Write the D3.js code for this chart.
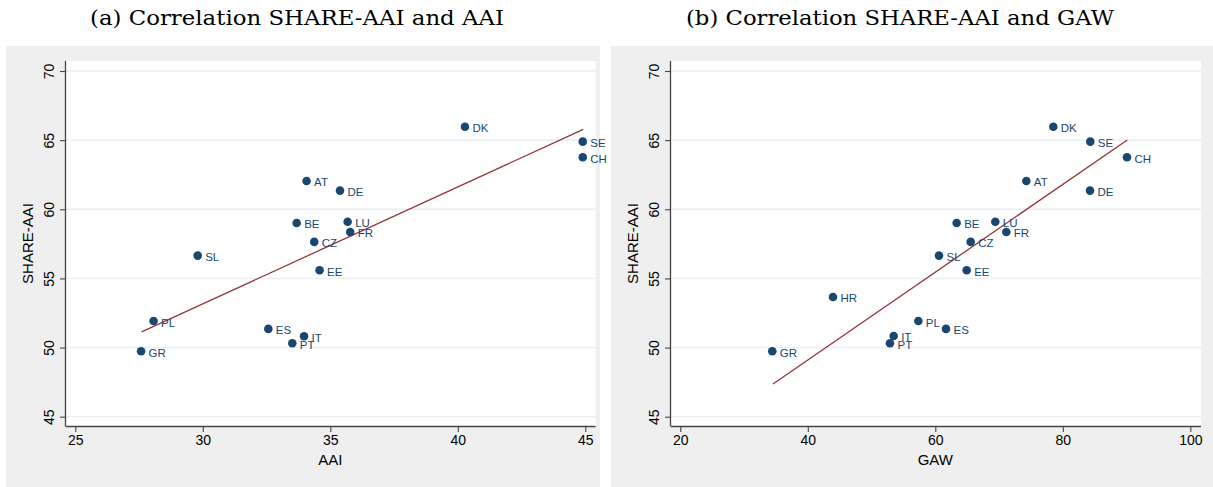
<!DOCTYPE html>
<html>
<head>
<meta charset="utf-8">
<script src="https://cdn.jsdelivr.net/npm/d3@7/dist/d3.min.js"></script>
<style>
  html, body { margin: 0; padding: 0; background: #ffffff; }
  svg { display: block; }
</style>
</head>
<body>
<div id="chart"></div>
<script>
// ---- Data ----
const countriesA = ["DK","SE","CH","AT","DE","BE","LU","FR","CZ","SL","EE","PL","GR","ES","PT","IT"];
const aaiValues   = [40.28,44.9,44.9,34.07,35.38,33.68,35.68,35.78,34.37,29.8,34.58,28.07,27.58,32.57,33.51,33.97];
const shareA      = [65.97,64.89,63.76,62.05,61.35,59.01,59.1,58.36,57.64,56.65,55.59,51.92,49.73,51.35,50.31,50.82];
const fitA_x = [27.6, 44.92];
const fitA_y = [51.13, 65.78];

const countriesB = ["DK","SE","CH","AT","DE","BE","LU","FR","CZ","SL","EE","PL","ES","HR","GR","IT","PT"];
const gawValues  = [78.51,84.31,90.07,74.28,84.27,63.35,69.41,71.14,65.55,60.58,64.92,57.34,61.68,43.95,34.43,53.47,52.89];
const shareB     = [65.97,64.89,63.76,62.05,61.35,59.01,59.1,58.36,57.64,56.65,55.59,51.92,51.35,53.66,49.73,50.84,50.31];
const fitB_x = [34.54, 90.12];
const fitB_y = [47.37, 65.01];

const yTicks = [45,50,55,60,65,70];
const xTicksA = [25,30,35,40,45];
const xTicksB = [20,40,60,80,100];

const titleA = "(a) Correlation SHARE-AAI and AAI";
const titleB = "(b) Correlation SHARE-AAI and GAW";

// ---- Drawing ----
const W = 1213, H = 487;
const svg = d3.select("#chart").append("svg").attr("width", W).attr("height", H);

const navy = "#1a476f", maroon = "#90353b";

function panel(cfg) {
  const g = svg.append("g");
  g.append("rect").attr("x", cfg.gx0).attr("y", 46).attr("width", cfg.gx1 - cfg.gx0).attr("height", H - 46)
    .attr("fill", "#efefef");
  g.append("rect").attr("x", cfg.px0).attr("y", 61).attr("width", cfg.px1 - cfg.px0).attr("height", 426 - 61)
    .attr("fill", "#ffffff");

  const x = d3.scaleLinear().domain(cfg.xDomain).range(cfg.xRange);
  const y = d3.scaleLinear().domain([45, 70]).range([416.7, 71]);

  g.append("g").selectAll("line").data(yTicks).join("line")
    .attr("x1", cfg.px0).attr("x2", cfg.px1)
    .attr("y1", d => y(d)).attr("y2", d => y(d))
    .attr("stroke", "#e9f0f3").attr("stroke-width", 1.5);

  g.append("line")
    .attr("x1", x(cfg.fitX[0])).attr("y1", y(cfg.fitY[0]))
    .attr("x2", x(cfg.fitX[1])).attr("y2", y(cfg.fitY[1]))
    .attr("stroke", maroon).attr("stroke-width", 1.3);

  const pts = cfg.names.map((n, i) => ({ n, x: cfg.xs[i], y: cfg.ys[i] }));
  g.append("g").selectAll("circle").data(pts).join("circle")
    .attr("cx", d => x(d.x)).attr("cy", d => y(d.y)).attr("r", 4.3)
    .attr("fill", navy);
  g.append("g").selectAll("text").data(pts).join("text")
    .attr("x", d => x(d.x) + 7.5).attr("y", d => y(d.y) + 5.5)
    .attr("font-family", "Liberation Sans, Arial, sans-serif").attr("font-size", 11.5)
    .attr("fill", navy).text(d => d.n);

  const yAxis = d3.axisLeft(y).tickValues(yTicks).tickSize(6).tickFormat(d3.format("d"));
  const ya = g.append("g").attr("transform", `translate(${cfg.px0},0)`).call(yAxis);
  ya.select(".domain").attr("stroke", "#444").attr("stroke-width", 1.3).attr("d", `M-0.5,61V426.5`);
  ya.selectAll(".tick line").attr("stroke", "#444").attr("stroke-width", 1.1);
  ya.selectAll(".tick text")
    .attr("font-family", "Liberation Sans, Arial, sans-serif").attr("font-size", 14).attr("fill", "#000")
    .attr("transform", "rotate(-90)").attr("x", 0).attr("y", -12).attr("dy", 0)
    .attr("text-anchor", "middle");

  const xAxis = d3.axisBottom(x).tickValues(cfg.xTicks).tickSize(6).tickFormat(d3.format("d"));
  const xa = g.append("g").attr("transform", `translate(0,426)`).call(xAxis);
  xa.select(".domain").attr("stroke", "#444").attr("stroke-width", 1.3).attr("d", `M${cfg.px0},0.5H${cfg.px1}`);
  xa.selectAll(".tick line").attr("stroke", "#444").attr("stroke-width", 1.1);
  xa.selectAll(".tick text")
    .attr("font-family", "Liberation Sans, Arial, sans-serif").attr("font-size", 14).attr("fill", "#000")
    .attr("y", 9).attr("dy", "0.71em");

  g.append("text").attr("x", x(cfg.xTitlePos)).attr("y", 465)
    .attr("text-anchor", "middle").attr("font-family", "Liberation Sans, Arial, sans-serif")
    .attr("font-size", 15).attr("fill", "#000").text(cfg.xTitle);
  g.append("text").attr("transform", `translate(${cfg.px0 - 33},243.5) rotate(-90)`)
    .attr("text-anchor", "middle").attr("font-family", "Liberation Sans, Arial, sans-serif")
    .attr("font-size", 15).attr("fill", "#000").text("SHARE-AAI");

  svg.append("text").attr("x", cfg.titleX).attr("y", 25)
    .attr("text-anchor", "middle").attr("font-family", "DejaVu Serif, Liberation Serif, serif")
    .attr("font-size", 21).attr("fill", "#000")
    .attr("textLength", cfg.titleLen).attr("lengthAdjust", "spacingAndGlyphs")
    .text(cfg.title);
}

panel({
  gx0: 6, gx1: 600, px0: 66, px1: 595.5,
  xDomain: [25, 45], xRange: [75.3, 585.3],
  names: countriesA, xs: aaiValues, ys: shareA,
  fitX: fitA_x, fitY: fitA_y, xTicks: xTicksA,
  xTitle: "AAI", xTitlePos: 35, title: titleA, titleX: 297, titleLen: 414
});
panel({
  gx0: 611, gx1: 1213, px0: 671, px1: 1201,
  xDomain: [20, 100], xRange: [680.3, 1190.3],
  names: countriesB, xs: gawValues, ys: shareB,
  fitX: fitB_x, fitY: fitB_y, xTicks: xTicksB,
  xTitle: "GAW", xTitlePos: 60, title: titleB, titleX: 900, titleLen: 428
});
</script>
</body>
</html>
